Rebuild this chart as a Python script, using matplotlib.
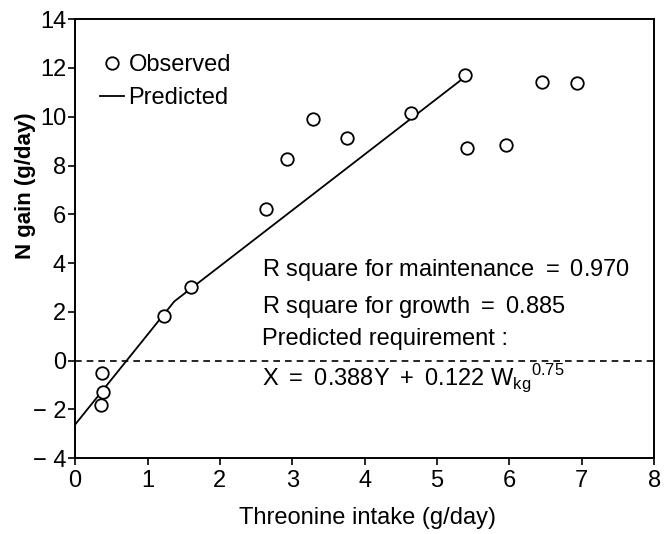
import matplotlib
matplotlib.use('Agg')
import matplotlib.pyplot as plt
from matplotlib.lines import Line2D

plt.rcParams['font.family'] = ['Liberation Sans', 'DejaVu Sans']
plt.rcParams['mathtext.fontset'] = 'custom'
plt.rcParams['mathtext.rm'] = 'Liberation Sans'

# observed points (threonine intake, N gain)
obs_x = [0.37, 0.38, 0.36, 1.23, 1.60, 2.63, 2.93, 3.28, 3.75, 4.64, 5.38, 5.41, 5.95, 6.45, 6.93]
obs_y = [-0.5, -1.3, -1.83, 1.83, 3.02, 6.23, 8.25, 9.9, 9.13, 10.15, 11.7, 8.73, 8.85, 11.43, 11.39]

# predicted broken line
pred_x = [0, 1.37, 5.38]
pred_y = [-2.62, 2.43, 11.62]

x_ticks = [0, 1, 2, 3, 4, 5, 6, 7, 8]
y_ticks = [-4, -2, 0, 2, 4, 6, 8, 10, 12, 14]
y_tick_labels = ['\u2212 4', '\u2212 2', '0', '2', '4', '6', '8', '10', '12', '14']

notes = [r'R square for maintenance $=$ 0.970',
         r'R square for growth $=$ 0.885',
         'Predicted requirement :',
         r'X $=$ 0.388Y$\;+\;$0.122 W$_{\mathregular{kg}}$$^{\mathregular{0.75}}$']
note_y = [3.73, 2.21, 0.90, -0.75]

fig = plt.figure(figsize=(6.71, 5.34), dpi=100)
ax = fig.add_axes([0.112, 0.142, 0.863, 0.822])

ax.axhline(0, color='black', lw=1.2, ls=(0, (4, 3)))
ax.plot(pred_x, pred_y, color='black', lw=1.3)
ax.plot(obs_x, obs_y, ls='none', marker='o', ms=9, mfc='white', mec='black', mew=1.3)

ax.set_xlim(0, 8)
ax.set_ylim(-4, 14)
ax.set_xticks(x_ticks)
ax.set_yticks(y_ticks)
ax.set_yticklabels(y_tick_labels)
ax.tick_params(direction='out', length=5, width=1.2, labelsize=17)
ax.tick_params(axis='x', pad=3.5)
ax.tick_params(axis='y', pad=1.5)
for s in ax.spines.values():
    s.set_linewidth(1.4)

ax.set_xlabel('Threonine intake (g/day)', fontsize=17, va='top')
ax.set_ylabel('N gain (g/day)', fontsize=16, fontweight='bold')
ax.xaxis.set_label_coords(0.505, -0.112)
ax.yaxis.set_label_coords(-0.068, 0.62)

for t, yy in zip(notes, note_y):
    ax.text(2.58, yy, t, fontsize=17, va='center', ha='left')

handles = [Line2D([], [], ls='none', marker='o', ms=9, mfc='white', mec='black', mew=1.3),
           Line2D([], [], color='black', lw=1.3)]
ax.legend(handles, ['Observed', 'Predicted'], loc='upper left', bbox_to_anchor=(0.043, 0.92),
          frameon=False, fontsize=17, handlelength=1.0, handletextpad=0.2,
          labelspacing=0.45, borderpad=0, borderaxespad=0)

fig.savefig('out.png', dpi=100)
